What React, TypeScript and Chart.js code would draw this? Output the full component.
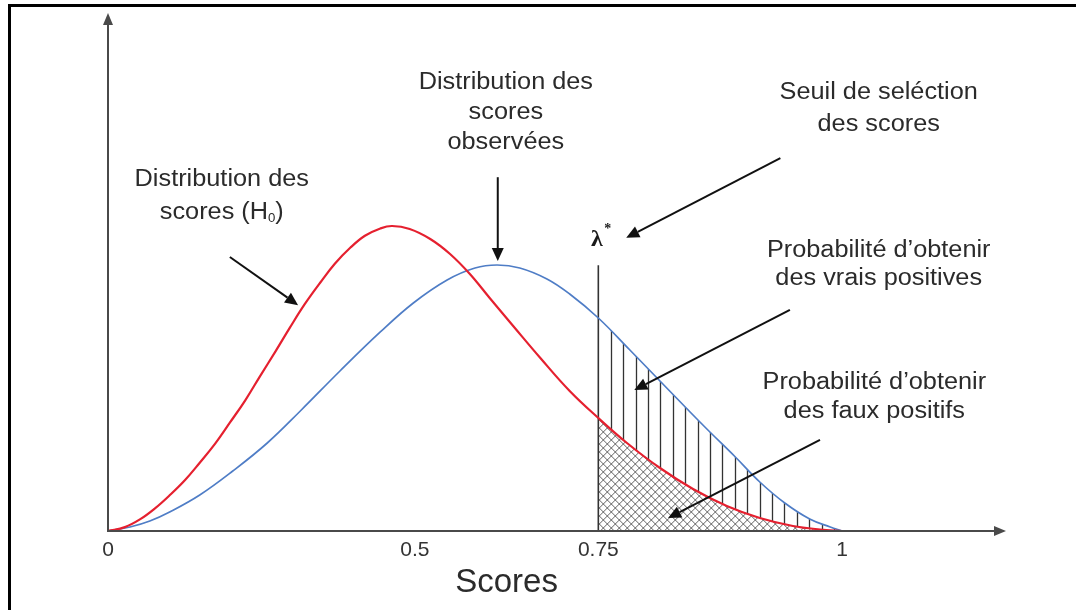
import React, { useEffect, useRef } from 'react';
import { Chart, registerables } from 'chart.js';

Chart.register(...registerables);

// ---- axis definition (schematic score axis) ----
const SCORE_TICK_POS = [0, 0.418, 0.668, 1];
const SCORE_TICK_LABELS = ['0', '0.5', '0.75', '1'];
const X_AXIS_MAX = 1.2234;
const Y_AXIS_MAX = 10;
const THRESHOLD = 0.668; // λ*
const THRESHOLD_TOP = 5.13;

// ---- distribution under H0 (red) ----
const H0_X = [0, 0.023, 0.044, 0.064, 0.084, 0.105, 0.125, 0.146, 0.166, 0.187, 0.207, 0.228, 0.248, 0.268, 0.289, 0.309, 0.330, 0.350, 0.371, 0.387, 0.411, 0.439, 0.466, 0.493, 0.520, 0.552, 0.589, 0.629, 0.668, 0.707, 0.752, 0.797, 0.843, 0.888, 0.933, 0.970, 1.0];
const H0_Y = [0, 0.075, 0.228, 0.436, 0.689, 0.985, 1.319, 1.687, 2.091, 2.523, 2.986, 3.463, 3.931, 4.378, 4.792, 5.160, 5.467, 5.699, 5.840, 5.888, 5.830, 5.637, 5.347, 4.961, 4.498, 3.958, 3.340, 2.703, 2.181, 1.699, 1.216, 0.811, 0.483, 0.251, 0.097, 0.029, 0];

// ---- observed score distribution (blue) ----
const OBS_X = [0, 0.030, 0.057, 0.084, 0.125, 0.170, 0.217, 0.262, 0.316, 0.371, 0.416, 0.462, 0.500, 0.530, 0.561, 0.598, 0.629, 0.668, 0.711, 0.752, 0.793, 0.820, 0.854, 0.888, 0.922, 0.956, 0.984, 1.0];
const OBS_Y = [0, 0.077, 0.193, 0.367, 0.695, 1.158, 1.699, 2.317, 3.089, 3.842, 4.402, 4.846, 5.077, 5.135, 5.077, 4.865, 4.575, 4.112, 3.494, 2.896, 2.297, 1.911, 1.438, 0.946, 0.541, 0.232, 0.077, 0];

// ---- annotations (in axis units) ----
const ARROWS: number[][] = [
  [0.166, 5.29, 0.259, 4.36],
  [0.531, 6.83, 0.531, 5.21],
  [0.916, 7.20, 0.706, 5.66],
  [0.929, 4.27, 0.717, 2.72],
  [0.970, 1.76, 0.763, 0.25],
];

const LABELS: { x: number; y: number; text: string; sub?: boolean }[] = [
  { x: 0.155, y: 6.78, text: 'Distribution des' },
  { x: 0.155, y: 6.14, text: 'scores (H|0|)', sub: true },
  { x: 0.542, y: 8.65, text: 'Distribution des' },
  { x: 0.542, y: 8.07, text: 'scores' },
  { x: 0.542, y: 7.49, text: 'observées' },
  { x: 1.050, y: 8.46, text: 'Seuil de seléction' },
  { x: 1.050, y: 7.84, text: 'des scores' },
  { x: 1.050, y: 5.42, text: 'Probabilité d’obtenir' },
  { x: 1.050, y: 4.88, text: 'des vrais positives' },
  { x: 1.044, y: 2.86, text: 'Probabilité d’obtenir' },
  { x: 1.044, y: 2.30, text: 'des faux positifs' },
];

const LAMBDA_POS = { x: 0.666, y: 5.62 };
const AXIS_TITLE = 'Scores';
const AXIS_TITLE_POS = { x: 0.543, y: -1.01 };

const FONT = '"Liberation Sans", Arial, sans-serif';
const TEXT_COLOR = '#2b2b2b';
const RED = '#e5202f';
const BLUE = '#4f7dc6';
const HATCH_STEP = 12.4;
const CROSS_STEP = 8;

function drawArrow(ctx: CanvasRenderingContext2D, x1: number, y1: number, x2: number, y2: number, color: string, lw: number, hl: number, hw: number) {
  const a = Math.atan2(y2 - y1, x2 - x1);
  const bx = x2 - hl * Math.cos(a);
  const by = y2 - hl * Math.sin(a);
  ctx.save();
  ctx.strokeStyle = color;
  ctx.fillStyle = color;
  ctx.lineWidth = lw;
  ctx.beginPath();
  ctx.moveTo(x1, y1);
  ctx.lineTo(bx, by);
  ctx.stroke();
  ctx.beginPath();
  ctx.moveTo(x2, y2);
  ctx.lineTo(bx + hw * Math.sin(a), by - hw * Math.cos(a));
  ctx.lineTo(bx - hw * Math.sin(a), by + hw * Math.cos(a));
  ctx.closePath();
  ctx.fill();
  ctx.restore();
}

function drawLabel(ctx: CanvasRenderingContext2D, cx: number, cy: number, text: string, sub: boolean) {
  const size = 23;
  const sx = 1.1;
  ctx.save();
  ctx.translate(cx, cy);
  ctx.scale(sx, 1);
  ctx.fillStyle = TEXT_COLOR;
  ctx.textBaseline = 'middle';
  if (!sub) {
    ctx.font = `${size}px ${FONT}`;
    ctx.textAlign = 'center';
    ctx.fillText(text, 0, 0);
  } else {
    const parts = text.split('|');
    const fonts = [`${size}px ${FONT}`, `${Math.round(size * 0.5)}px ${FONT}`, `${size}px ${FONT}`];
    const widths = parts.map((p, i) => { ctx.font = fonts[i]; return ctx.measureText(p).width; });
    const total = widths.reduce((s, w) => s + w, 0);
    let x = -total / 2;
    ctx.textAlign = 'left';
    parts.forEach((p, i) => {
      ctx.font = fonts[i];
      ctx.fillText(p, x, i === 1 ? 6 : 0);
      x += widths[i];
    });
  }
  ctx.restore();
}

const decorPlugin = {
  id: 'decor',
  beforeDraw(chart: any) {
    const { ctx, width, height } = chart;
    ctx.save();
    ctx.fillStyle = '#ffffff';
    ctx.fillRect(0, 0, width, height);
    // frame
    ctx.fillStyle = '#000000';
    ctx.fillRect(8, 4, width - 8, 3);
    ctx.fillRect(8, 4, 3, height - 4);
    ctx.restore();
  },
  beforeDatasetsDraw(chart: any) {
    const { ctx, chartArea, scales } = chart;
    const xs = scales.x, ys = scales.y;
    const red = chart.getDatasetMeta(0).dataset;
    const blue = chart.getDatasetMeta(1).dataset;
    red.updateControlPoints(chartArea, 'x');
    blue.updateControlPoints(chartArea, 'x');
    const x0 = xs.getPixelForValue(THRESHOLD);
    const xStart = xs.getPixelForValue(0);
    const xEnd = xs.getPixelForValue(1);
    const y0 = ys.getPixelForValue(0);

    // vertical hatching under observed curve, right of threshold
    ctx.save();
    ctx.beginPath();
    ctx.rect(x0, chartArea.top, xEnd - x0 + 2, y0 - chartArea.top);
    ctx.clip();
    ctx.beginPath();
    blue.path(ctx);
    ctx.lineTo(xEnd, y0);
    ctx.lineTo(xStart, y0);
    ctx.closePath();
    ctx.clip();
    ctx.strokeStyle = '#333333';
    ctx.lineWidth = 1.3;
    for (let k = 1; x0 + k * HATCH_STEP < xEnd; k++) {
      const px = Math.round(x0 + k * HATCH_STEP) + 0.5;
      ctx.beginPath();
      ctx.moveTo(px, chartArea.top);
      ctx.lineTo(px, y0);
      ctx.stroke();
    }
    ctx.restore();

    // cross hatching under H0 curve, right of threshold
    ctx.save();
    ctx.beginPath();
    ctx.rect(x0, chartArea.top, xEnd - x0 + 2, y0 - chartArea.top);
    ctx.clip();
    ctx.beginPath();
    red.path(ctx);
    ctx.lineTo(xEnd, y0);
    ctx.lineTo(xStart, y0);
    ctx.closePath();
    ctx.clip();
    ctx.fillStyle = '#ffffff';
    ctx.fillRect(x0, chartArea.top, xEnd - x0 + 2, y0 - chartArea.top);
    ctx.strokeStyle = 'rgba(50,50,50,0.85)';
    ctx.lineWidth = 0.9;
    const h = y0 - chartArea.top;
    for (let s = x0 - h; s < xEnd + h; s += CROSS_STEP) {
      ctx.beginPath();
      ctx.moveTo(s, y0);
      ctx.lineTo(s + h, chartArea.top);
      ctx.stroke();
      ctx.beginPath();
      ctx.moveTo(s, chartArea.top);
      ctx.lineTo(s + h, y0);
      ctx.stroke();
    }
    ctx.restore();

    // threshold line
    ctx.save();
    ctx.strokeStyle = '#333333';
    ctx.lineWidth = 1.6;
    ctx.beginPath();
    ctx.moveTo(x0, ys.getPixelForValue(THRESHOLD_TOP));
    ctx.lineTo(x0, y0);
    ctx.stroke();
    ctx.restore();
  },
  afterDraw(chart: any) {
    const { ctx, scales } = chart;
    const xs = scales.x, ys = scales.y;
    const px = (v: number) => xs.getPixelForValue(v);
    const py = (v: number) => ys.getPixelForValue(v);
    const ox = px(0), oy = py(0);

    // axes with arrowheads
    drawArrow(ctx, ox, oy + 1, ox, py(Y_AXIS_MAX), '#4a4a4a', 2, 12, 5);
    drawArrow(ctx, ox - 1, oy, px(X_AXIS_MAX), oy, '#4a4a4a', 2, 12, 5);

    // annotation arrows
    ARROWS.forEach(([a, b, c, d]) => drawArrow(ctx, px(a), py(b), px(c), py(d), '#111111', 2, 13, 6));

    // annotation labels
    LABELS.forEach((l) => drawLabel(ctx, px(l.x), py(l.y), l.text, !!l.sub));

    // lambda*
    ctx.save();
    ctx.fillStyle = '#1a1a1a';
    ctx.textBaseline = 'middle';
    ctx.textAlign = 'center';
    ctx.font = `bold 24px "Liberation Serif", serif`;
    ctx.fillText('λ', px(LAMBDA_POS.x), py(LAMBDA_POS.y));
    ctx.font = `bold 14px "Liberation Serif", serif`;
    ctx.fillText('*', px(LAMBDA_POS.x) + 11, py(LAMBDA_POS.y) - 10);
    ctx.restore();

    // axis title
    ctx.save();
    ctx.fillStyle = '#2b2b2b';
    ctx.textAlign = 'center';
    ctx.textBaseline = 'middle';
    ctx.font = `33px ${FONT}`;
    ctx.fillText(AXIS_TITLE, px(AXIS_TITLE_POS.x), py(AXIS_TITLE_POS.y));
    ctx.restore();
  },
};

export default function App() {
  const ref = useRef<HTMLCanvasElement | null>(null);

  useEffect(() => {
    if (!ref.current) return;
    const chart = new Chart(ref.current, {
      type: 'line',
      data: {
        datasets: [
          {
            label: 'Distribution des scores (H0)',
            data: H0_X.map((x, i) => ({ x, y: H0_Y[i] })),
            borderColor: RED,
            borderWidth: 2.2,
            pointRadius: 0,
            fill: false,
            tension: 0.4,
          },
          {
            label: 'Distribution des scores observées',
            data: OBS_X.map((x, i) => ({ x, y: OBS_Y[i] })),
            borderColor: BLUE,
            borderWidth: 1.7,
            pointRadius: 0,
            fill: false,
            tension: 0.4,
          },
        ],
      },
      options: {
        animation: false,
        responsive: false,
        devicePixelRatio: 1,
        events: [],
        layout: { padding: { left: 108, right: 70, top: 13, bottom: 0 } },
        plugins: { legend: { display: false }, tooltip: { enabled: false }, title: { display: false } },
        scales: {
          x: {
            type: 'linear',
            min: 0,
            max: X_AXIS_MAX,
            grid: { display: false, drawTicks: false },
            border: { display: false },
            afterBuildTicks: (scale: any) => {
              scale.ticks = SCORE_TICK_POS.map((v) => ({ value: v }));
            },
            afterFit: (scale: any) => {
              scale.height = 79;
            },
            ticks: {
              autoSkip: false,
              maxRotation: 0,
              padding: 7,
              color: '#333333',
              font: { family: FONT, size: 21 },
              callback: (_v: any, i: number) => SCORE_TICK_LABELS[i],
            },
          },
          y: {
            type: 'linear',
            display: false,
            min: 0,
            max: Y_AXIS_MAX,
          },
        },
      },
      plugins: [decorPlugin],
    } as any);
    return () => chart.destroy();
  }, []);

  return (
    <div style={{ position: 'absolute', left: 0, top: 0, width: 1076, height: 610 }}>
      <canvas ref={ref} width={1076} height={610} style={{ display: 'block' }} />
    </div>
  );
}
